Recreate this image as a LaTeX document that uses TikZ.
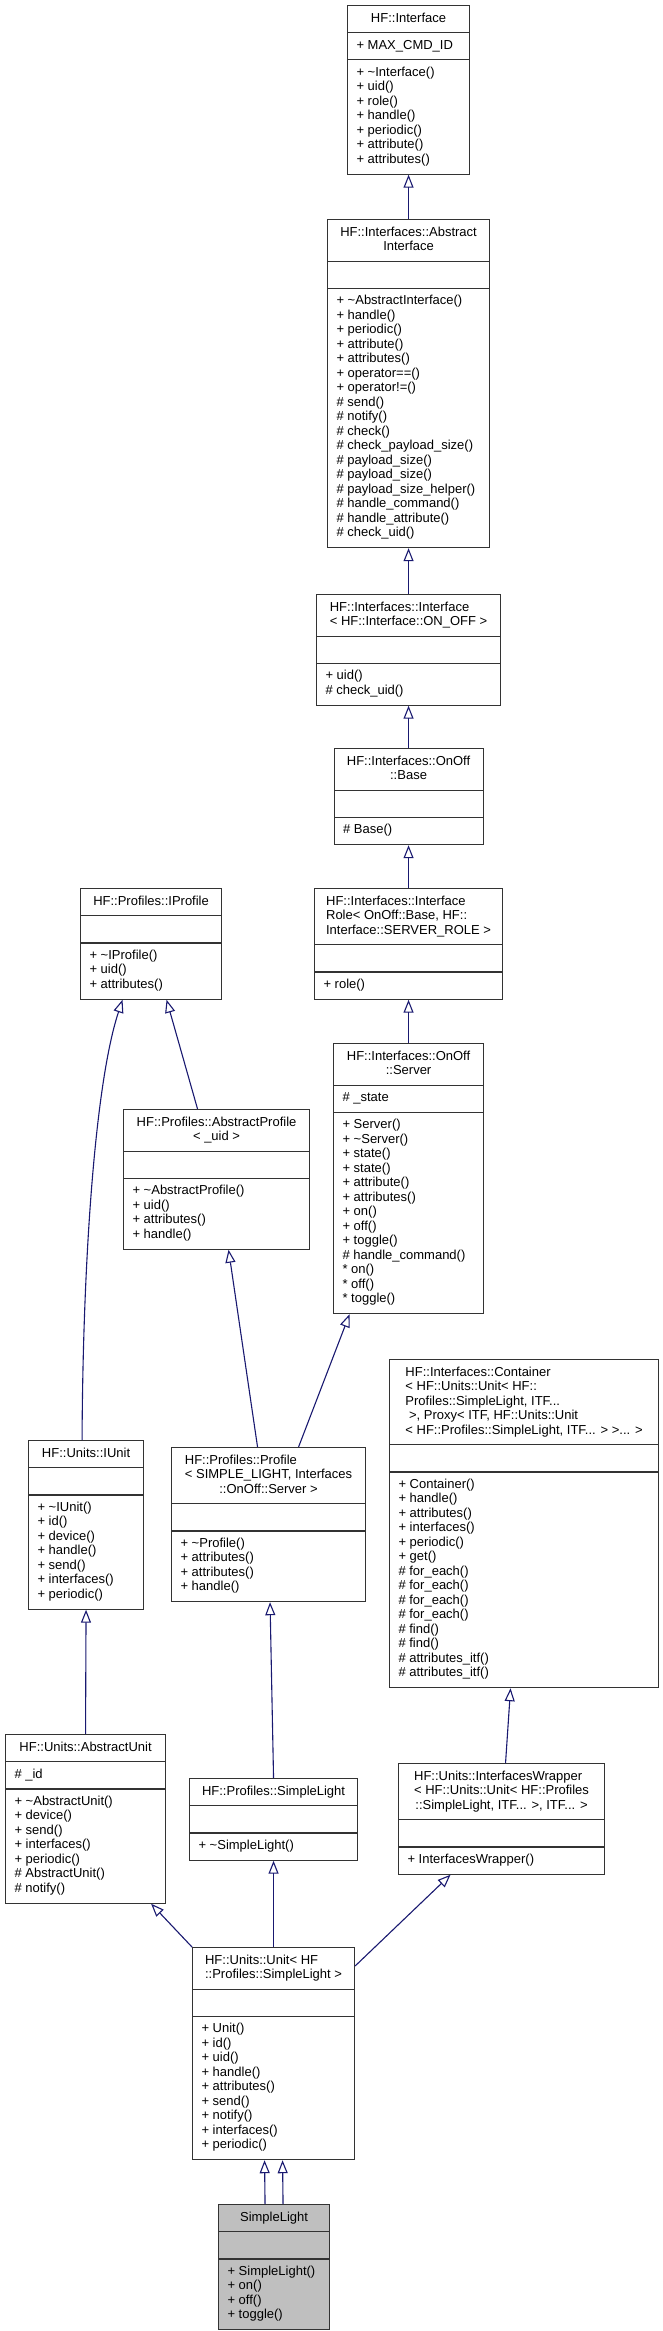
\documentclass[tikz,border=0pt]{standalone}
\usepackage{fontspec}
\setmainfont{Liberation Sans}
\usetikzlibrary{shapes.multipart,arrows.meta}
\definecolor{edgeblue}{HTML}{191970}
\definecolor{hilite}{HTML}{BFBFBF}
\newcommand\lrows[1]{\begin{tabular}{@{}l@{}}#1\end{tabular}}
\newcommand\crows[1]{\begin{tabular}{@{}c@{}}#1\end{tabular}}

\begin{document}
\begin{tikzpicture}[x=1pt,y=-1pt,
  cls/.style={rectangle split, rectangle split parts=3, draw=black!80, line width=1.1pt, fill=white,
    anchor=north west, inner xsep=9pt, inner ysep=5.8pt, rectangle split part align={center,left,left},
    font=\fontsize{13}{14.5}\selectfont},
  inherit/.style={draw=edgeblue, line width=1.1pt, -{Triangle[open,length=13pt,width=10pt]}}]
\useasboundingbox (0,0) rectangle (663,2331);
\node[cls, minimum width=122pt] (iface) at (347,5) {\lrows{HF::Interface}
  \nodepart{second}\lrows{+ MAX\_CMD\_ID}
  \nodepart{third}\lrows{+ \textasciitilde Interface()\\+ uid()\\+ role()\\+ handle()\\+ periodic()\\+ attribute()\\+ attributes()}};
\node[cls, minimum width=162pt] (abstrIf) at (327,219) {\crows{HF::Interfaces::Abstract\\Interface}
  \nodepart{second}\strut
  \nodepart{third}\lrows{+ \textasciitilde AbstractInterface()\\+ handle()\\+ periodic()\\+ attribute()\\+ attributes()\\+ operator==()\\+ operator!=()\\\# send()\\\# notify()\\\# check()\\\# check\_payload\_size()\\\# payload\_size()\\\# payload\_size()\\\# payload\_size\_helper()\\\# handle\_command()\\\# handle\_attribute()\\\# check\_uid()}};
\node[cls, minimum width=184pt] (ifaceOnOff) at (316,594) {\lrows{HF::Interfaces::Interface\\< HF::Interface::ON\_OFF >}
  \nodepart{second}\strut
  \nodepart{third}\lrows{+ uid()\\\# check\_uid()}};
\node[cls, minimum width=149pt] (onoffBase) at (333.5,748) {\crows{HF::Interfaces::OnOff\\::Base}
  \nodepart{second}\strut
  \nodepart{third}\lrows{\# Base()}};
\node[cls, minimum width=188pt] (ifaceRole) at (314,888) {\lrows{HF::Interfaces::Interface\\Role< OnOff::Base, HF::\\Interface::SERVER\_ROLE >}
  \nodepart{second}\strut
  \nodepart{third}\lrows{+ role()}};
\node[cls, minimum width=150pt] (server) at (333,1043) {\crows{HF::Interfaces::OnOff\\::Server}
  \nodepart{second}\lrows{\# \_state}
  \nodepart{third}\lrows{+ Server()\\+ \textasciitilde Server()\\+ state()\\+ state()\\+ attribute()\\+ attributes()\\+ on()\\+ off()\\+ toggle()\\\# handle\_command()\\{}* on()\\{}* off()\\{}* toggle()}};
\node[cls, minimum width=141pt] (iprofile) at (80,888) {\lrows{HF::Profiles::IProfile}
  \nodepart{second}\strut
  \nodepart{third}\lrows{+ \textasciitilde IProfile()\\+ uid()\\+ attributes()}};
\node[cls, minimum width=186pt] (abstrProfile) at (123,1109) {\crows{HF::Profiles::AbstractProfile\\< \_uid >}
  \nodepart{second}\strut
  \nodepart{third}\lrows{+ \textasciitilde AbstractProfile()\\+ uid()\\+ attributes()\\+ handle()}};
\node[cls, minimum width=115pt] (iunit) at (28,1440) {\lrows{HF::Units::IUnit}
  \nodepart{second}\strut
  \nodepart{third}\lrows{+ \textasciitilde IUnit()\\+ id()\\+ device()\\+ handle()\\+ send()\\+ interfaces()\\+ periodic()}};
\node[cls, minimum width=194pt] (profile) at (171,1447) {\lrows{HF::Profiles::Profile\\< SIMPLE\_LIGHT, Interfaces\\\multicolumn{1}{@{}c@{}}{::OnOff::Server >}}
  \nodepart{second}\strut
  \nodepart{third}\lrows{+ \textasciitilde Profile()\\+ attributes()\\+ attributes()\\+ handle()}};
\node[cls, minimum width=269pt] (container) at (389,1359) {\lrows{HF::Interfaces::Container\\< HF::Units::Unit< HF::\\Profiles::SimpleLight, ITF...\\\ >, Proxy< ITF, HF::Units::Unit\\< HF::Profiles::SimpleLight, ITF... > >... >}
  \nodepart{second}\strut
  \nodepart{third}\lrows{+ Container()\\+ handle()\\+ attributes()\\+ interfaces()\\+ periodic()\\+ get()\\\# for\_each()\\\# for\_each()\\\# for\_each()\\\# for\_each()\\\# find()\\\# find()\\\# attributes\_itf()\\\# attributes\_itf()}};
\node[cls, minimum width=160pt] (abstrUnit) at (5,1734) {\lrows{HF::Units::AbstractUnit}
  \nodepart{second}\lrows{\# \_id}
  \nodepart{third}\lrows{+ \textasciitilde AbstractUnit()\\+ device()\\+ send()\\+ interfaces()\\+ periodic()\\\# AbstractUnit()\\\# notify()}};
\node[cls, minimum width=168pt] (slProfile) at (189,1778) {\lrows{HF::Profiles::SimpleLight}
  \nodepart{second}\strut
  \nodepart{third}\lrows{+ \textasciitilde SimpleLight()}};
\node[cls, minimum width=206pt] (ifWrapper) at (398,1763) {\lrows{HF::Units::InterfacesWrapper\\< HF::Units::Unit< HF::Profiles\\\multicolumn{1}{@{}c@{}}{::SimpleLight, ITF... >, ITF... >}}
  \nodepart{second}\strut
  \nodepart{third}\lrows{+ InterfacesWrapper()}};
\node[cls, minimum width=162pt] (unit) at (192,1947) {\lrows{HF::Units::Unit< HF\\::Profiles::SimpleLight >}
  \nodepart{second}\strut
  \nodepart{third}\lrows{+ Unit()\\+ id()\\+ uid()\\+ handle()\\+ attributes()\\+ send()\\+ notify()\\+ interfaces()\\+ periodic()}};
\node[cls, minimum width=111pt, fill=hilite] (simpleLight) at (218,2204) {\lrows{SimpleLight}
  \nodepart{second}\strut
  \nodepart{third}\lrows{+ SimpleLight()\\+ on()\\+ off()\\+ toggle()}};
\draw[inherit] (abstrIf.north) -- (iface.south);
\draw[inherit] (ifaceOnOff.north) -- (abstrIf.south);
\draw[inherit] (onoffBase.north) -- (ifaceOnOff.south);
\draw[inherit] (ifaceRole.north) -- (onoffBase.south);
\draw[inherit] (server.north) -- (ifaceRole.south);
\draw[inherit] ([xshift=-4pt]iunit.north) .. controls (83,1250) and (96,1080) .. ([xshift=-28.5pt]iprofile.south);
\draw[inherit] ([xshift=-19pt]abstrProfile.north) -- ([xshift=15.5pt]iprofile.south);
\draw[inherit] ([xshift=-11pt]profile.north) -- ([xshift=12pt]abstrProfile.south);
\draw[inherit] ([xshift=30pt]profile.north) -- ([xshift=-59pt]server.south);
\draw[inherit] (abstrUnit.north) -- (iunit.south);
\draw[inherit] (slProfile.north) -- ([xshift=1.5pt]profile.south);
\draw[inherit] ([xshift=4pt]ifWrapper.north) -- ([xshift=-13.5pt]container.south);
\draw[inherit] (unit.north west) -- ([xshift=-15pt]abstrUnit.south east);
\draw[inherit] (unit.north) -- (slProfile.south);
\draw[inherit] ([yshift=-19pt]unit.north east) -- ([xshift=-51pt]ifWrapper.south);
\draw[inherit] ([xshift=-9pt]simpleLight.north) -- ([xshift=-9pt]unit.south);
\draw[inherit] ([xshift=9pt]simpleLight.north) -- ([xshift=9pt]unit.south);
\end{tikzpicture}
\end{document}
